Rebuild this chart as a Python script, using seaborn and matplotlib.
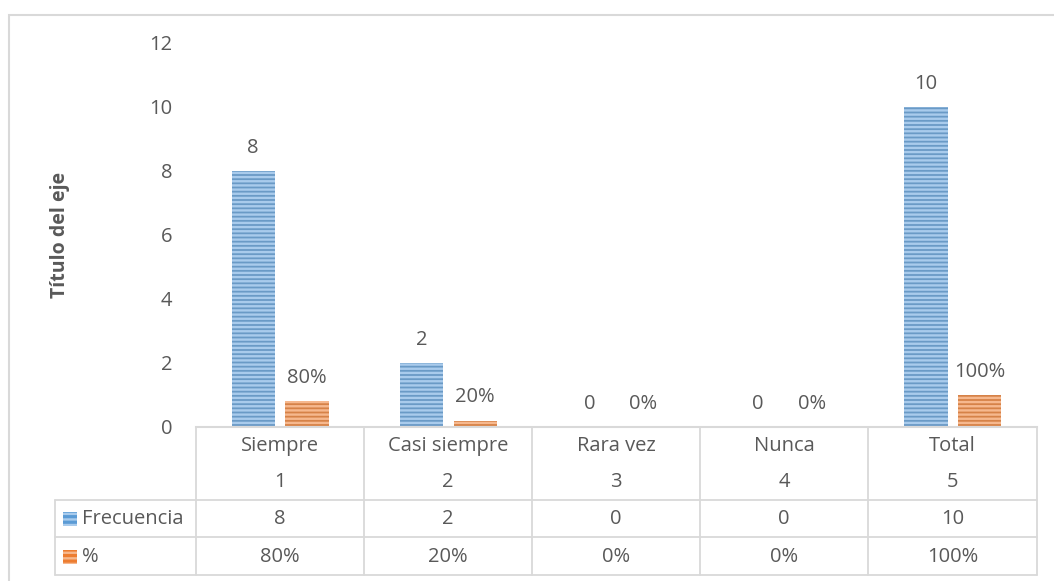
import matplotlib
matplotlib.use("Agg")
import matplotlib.pyplot as plt
import seaborn as sns
import pandas as pd
from matplotlib.patches import Rectangle
from matplotlib.lines import Line2D

categories = ["Siempre", "Casi siempre", "Rara vez", "Nunca", "Total"]
numbers = ["1", "2", "3", "4", "5"]
frecuencia = [8, 2, 0, 0, 10]
porcentaje = [0.8, 0.2, 0.0, 0.0, 1.0]
pct_labels = ["80%", "20%", "0%", "0%", "100%"]
series_names = ["Frecuencia", "%"]
y_ticks = [0, 2, 4, 6, 8, 10, 12]

sns.set_theme(style="white")
plt.rcParams["font.family"] = ["Open Sans", "DejaVu Sans"]
plt.rcParams["hatch.linewidth"] = 1.7

TXT = "#595959"
GRID = "#D9D9D9"
BLUE, BLUE_L = "#5B9BD5", "#A9CBEC"
ORANGE, ORANGE_L = "#ED7D31", "#F6B88E"
FS = 14.5

W, H = 1054, 581
fig = plt.figure(figsize=(W / 100, H / 100), dpi=100)

def fx(px):
    return px / W

def fy(py):
    return 1 - py / H

x0, x1, ytop, ybot = 196, 1037, 43, 427
ax = fig.add_axes([fx(x0), fy(ybot), fx(x1) - fx(x0), fy(ytop) - fy(ybot)])

df = pd.DataFrame({
    "cat": categories * 2,
    "serie": [series_names[0]] * 5 + [series_names[1]] * 5,
    "val": frecuencia + porcentaje,
})
sns.barplot(data=df, x="cat", y="val", hue="serie", order=categories,
            hue_order=series_names, palette=[BLUE, ORANGE], width=0.64,
            gap=0.2, legend=False, ax=ax)

n = len(categories)
for i, p in enumerate(ax.patches[:2 * n]):
    light = BLUE_L if i < n else ORANGE_L
    p.set_edgecolor(light)
    p.set_linewidth(0)
    p.set_hatch("----")

# data labels
for i, p in enumerate(ax.patches[:2 * n]):
    if i < n:
        lab = str(frecuencia[i])
    else:
        lab = pct_labels[i - n]
    ax.annotate(lab, (p.get_x() + p.get_width() / 2, p.get_height()),
                xytext=(0, 9.5), textcoords="offset points", ha="center",
                va="bottom", fontsize=FS, color=TXT)

ax.set_xlim(-0.5, n - 0.5)
ax.set_ylim(0, 12)
ax.set_yticks(y_ticks)
ax.set_yticklabels([str(t) for t in y_ticks], fontsize=FS, color=TXT)
ax.tick_params(axis="y", length=0, pad=17)
ax.set_xticks([])
ax.set_xlabel("")
ax.set_ylabel("")
for s in ["top", "right", "left"]:
    ax.spines[s].set_visible(False)
ax.spines["bottom"].set_color(GRID)
ax.spines["bottom"].set_linewidth(1.5)

fig.text(fx(60), fy(235), "Título del eje", rotation=90, ha="center",
         va="center", fontsize=FS - 0.5, fontweight="bold", color=TXT)

# outer chart border
fig.add_artist(Rectangle((fx(9), fy(584)), fx(1060) - fx(9), fy(15) - fy(584),
                         transform=fig.transFigure, fill=False,
                         edgecolor=GRID, linewidth=1.5))

# data table
col_edges = [196, 364, 532, 700, 868, 1037]
def hline(xa, xb, y):
    fig.add_artist(Line2D([fx(xa), fx(xb)], [fy(y), fy(y)], color=GRID, lw=1.3,
                          transform=fig.transFigure))
def vline(x, ya, yb):
    fig.add_artist(Line2D([fx(x), fx(x)], [fy(ya), fy(yb)], color=GRID, lw=1.3,
                          transform=fig.transFigure))

for x in col_edges:
    vline(x, 427, 575)
vline(55, 500, 575)
hline(55, 1037, 500)
hline(55, 1037, 537)
hline(55, 1037, 575)

for i in range(n):
    cx = (col_edges[i] + col_edges[i + 1]) / 2
    fig.text(fx(cx), fy(446), categories[i], ha="center", va="center",
             fontsize=FS, color=TXT)
    fig.text(fx(cx), fy(482), numbers[i], ha="center", va="center",
             fontsize=FS, color=TXT)
    fig.text(fx(cx), fy(519), str(frecuencia[i]), ha="center", va="center",
             fontsize=FS, color=TXT)
    fig.text(fx(cx), fy(557), pct_labels[i], ha="center", va="center",
             fontsize=FS, color=TXT)

for row_y, name, col, light in [(519, series_names[0], BLUE, BLUE_L),
                                (557, series_names[1], ORANGE, ORANGE_L)]:
    fig.add_artist(Rectangle((fx(63), fy(row_y + 7)), fx(14), 14 / H,
                             transform=fig.transFigure, facecolor=col,
                             edgecolor=light, linewidth=0, hatch="---"))
    fig.text(fx(82), fy(row_y), name, ha="left", va="center",
             fontsize=FS, color=TXT)

fig.savefig("out.png", dpi=100)
